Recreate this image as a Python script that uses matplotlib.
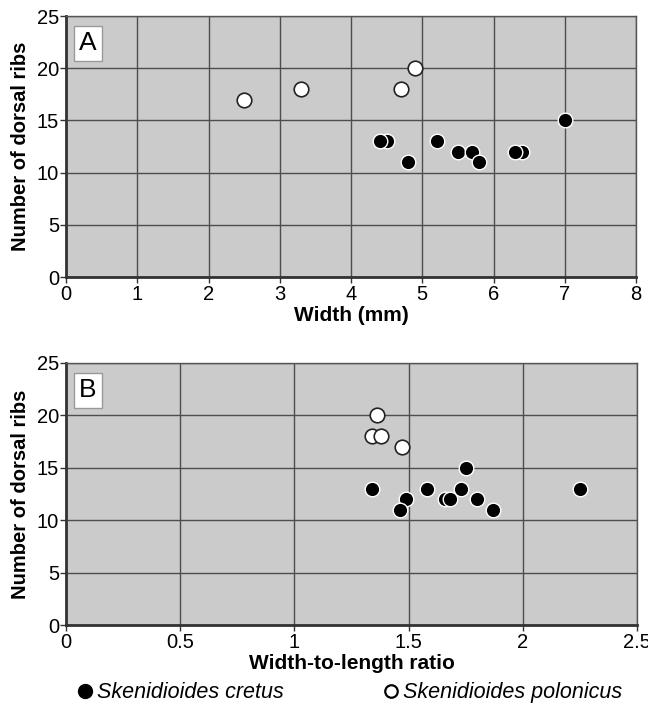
import matplotlib
matplotlib.use('Agg')
import matplotlib.pyplot as plt
from matplotlib.lines import Line2D

plt.rcParams['font.family'] = ['Liberation Sans', 'DejaVu Sans']

# panel A: width (mm) vs number of dorsal ribs
cretus_width = [4.5, 4.4, 4.8, 5.2, 5.5, 5.7, 5.8, 6.4, 6.3, 7.0]
cretus_ribs_a = [13, 13, 11, 13, 12, 12, 11, 12, 12, 15]
polonicus_width = [2.5, 3.3, 4.7, 4.9]
polonicus_ribs_a = [17, 18, 18, 20]

# panel B: width-to-length ratio vs number of dorsal ribs
cretus_ratio = [1.34, 1.49, 1.46, 1.58, 1.66, 1.68, 1.75, 1.73, 1.80, 1.87, 2.25]
cretus_ribs_b = [13, 12, 11, 13, 12, 12, 15, 13, 12, 11, 13]
polonicus_ratio = [1.36, 1.34, 1.38, 1.47]
polonicus_ribs_b = [20, 18, 18, 17]

bg = '#cbcbcb'
grid_col = '#4d4d4d'

fig = plt.figure(figsize=(6.48, 7.04), dpi=100)
ax_a = fig.add_axes([0.1019, 0.6065, 0.8796, 0.3707])
ax_b = fig.add_axes([0.1019, 0.1122, 0.8812, 0.3722])


def style_axes(ax, letter, xlim, xticks, xticklabels, xlabel):
    ax.set_facecolor(bg)
    ax.set_xlim(*xlim)
    ax.set_ylim(0, 25)
    ax.set_xticks(xticks)
    ax.set_xticklabels(xticklabels)
    ax.set_yticks([0, 5, 10, 15, 20, 25])
    ax.grid(True, color=grid_col, linewidth=1.0)
    ax.set_axisbelow(True)
    ax.tick_params(direction='out', length=4, width=1, labelsize=14.5,
                   color='#333333')
    ax.tick_params(axis='x', pad=2)
    ax.tick_params(axis='y', pad=1)
    for side in ['left', 'bottom']:
        ax.spines[side].set_linewidth(2.0)
        ax.spines[side].set_color('#333333')
    for side in ['top', 'right']:
        ax.spines[side].set_linewidth(1.0)
        ax.spines[side].set_color('#555555')
    ax.set_ylabel('Number of dorsal ribs', fontsize=14.5, fontweight='bold',
                  labelpad=5)
    ax.set_xlabel(xlabel, fontsize=15, fontweight='bold', labelpad=1)
    ax.text(0.023, 0.895, letter, transform=ax.transAxes, fontsize=19,
            ha='left', va='center',
            bbox=dict(boxstyle='square,pad=0.2', facecolor='white',
                      edgecolor='#999999', linewidth=1))


style_axes(ax_a, 'A', (0, 8), range(0, 9), [str(i) for i in range(9)],
           'Width (mm)')
style_axes(ax_b, 'B', (0, 2.5), [0, 0.5, 1, 1.5, 2, 2.5],
           ['0', '0.5', '1', '1.5', '2', '2.5'], 'Width-to-length ratio')

ax_a.scatter(cretus_width, cretus_ribs_a, s=110, c='black',
             edgecolors='white', linewidths=1.0, zorder=3)
ax_a.scatter(polonicus_width, polonicus_ribs_a, s=110, c='white',
             edgecolors='#222222', linewidths=1.2, zorder=3)
ax_b.scatter(cretus_ratio, cretus_ribs_b, s=110, c='black',
             edgecolors='white', linewidths=1.0, zorder=3)
ax_b.scatter(polonicus_ratio, polonicus_ribs_b, s=110, c='white',
             edgecolors='#222222', linewidths=1.2, zorder=3)

handles = [
    Line2D([], [], marker='o', linestyle='none', markersize=10,
           markerfacecolor='black', markeredgecolor='black'),
    Line2D([], [], marker='o', linestyle='none', markersize=9,
           markerfacecolor='white', markeredgecolor='black',
           markeredgewidth=1.6),
]
fig.legend(handles, ['Skenidioides cretus', 'Skenidioides polonicus'],
           loc='center left', bbox_to_anchor=(0.118, 0.016), ncol=2,
           frameon=False, prop={'style': 'italic', 'size': 15.5},
           handletextpad=0.15, columnspacing=4.6, handlelength=0.8,
           borderaxespad=0, borderpad=0)

fig.savefig('out.png', dpi=100)
